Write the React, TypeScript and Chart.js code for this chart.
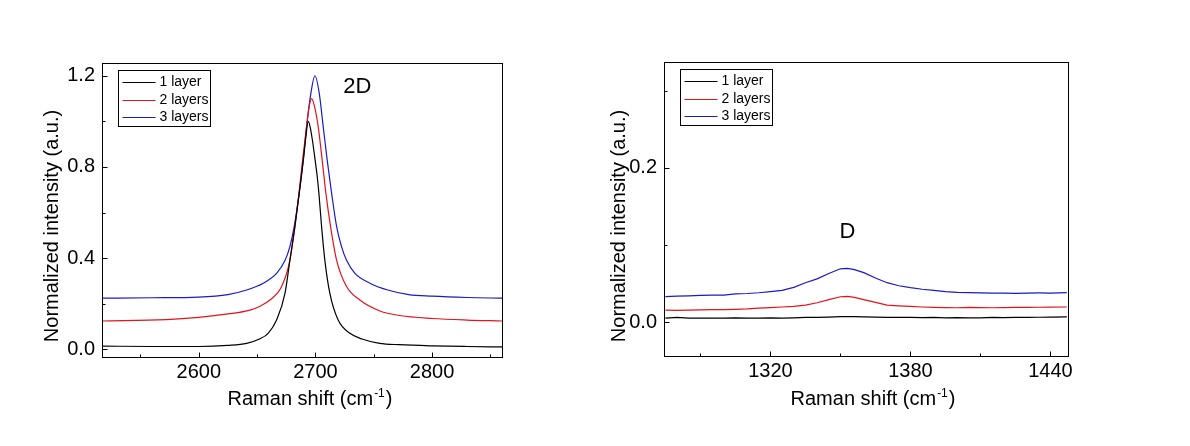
import React, { useEffect, useRef } from "react";
import { Chart, registerables } from "chart.js";

Chart.register(...registerables);

const FONT = "'Liberation Sans', Arial, Helvetica, sans-serif";

const seriesLabels = ["1 layer", "2 layers", "3 layers"];
const seriesColors = ["#000000", "#e3141c", "#1a1ac8"];

// ---------- 2D band (left panel) ----------
const shift2D_1 = [2517, 2560, 2600, 2625, 2641, 2652, 2659.5, 2666.7, 2673.9, 2678.1, 2682.4, 2686.1, 2689.6, 2691.8, 2693.8, 2695.5, 2697.5, 2699.5, 2701.5, 2703, 2705.3, 2708.1, 2712.4, 2719.5, 2729.6, 2740, 2755, 2772, 2800, 2830, 2860];
const int2D_1 = [0.014, 0.012, 0.012, 0.017, 0.026, 0.045, 0.07, 0.128, 0.245, 0.39, 0.538, 0.684, 0.83, 0.93, 1.0, 0.975, 0.915, 0.84, 0.76, 0.684, 0.538, 0.39, 0.245, 0.128, 0.07, 0.045, 0.026, 0.02, 0.015, 0.012, 0.01];

const shift2D_2 = [2517, 2572, 2600, 2625, 2643.9, 2653, 2661, 2671, 2678.1, 2682.4, 2685.9, 2689, 2692.4, 2694.5, 2696.7, 2699, 2702.4, 2705.8, 2709, 2713, 2718.2, 2726.7, 2738.1, 2755.3, 2772.4, 2800, 2830, 2860];
const int2D_2 = [0.124, 0.13, 0.14, 0.155, 0.172, 0.19, 0.216, 0.275, 0.39, 0.538, 0.684, 0.83, 0.976, 1.06, 1.1, 1.07, 0.976, 0.83, 0.684, 0.538, 0.39, 0.275, 0.216, 0.168, 0.148, 0.135, 0.128, 0.124];

const shift2D_3 = [2517, 2560, 2600, 2625, 2641, 2655.3, 2666.7, 2674, 2678.1, 2681.8, 2686.1, 2689.6, 2692.4, 2696.1, 2699.6, 2703.3, 2706.7, 2710.1, 2713.9, 2718.2, 2722.4, 2726.7, 2733.9, 2746.7, 2762, 2780, 2800, 2830, 2860];
const int2D_3 = [0.224, 0.226, 0.229, 0.24, 0.26, 0.29, 0.333, 0.39, 0.45, 0.538, 0.684, 0.83, 0.976, 1.123, 1.2, 1.123, 0.976, 0.83, 0.684, 0.538, 0.45, 0.39, 0.333, 0.29, 0.26, 0.24, 0.233, 0.227, 0.224];

// ---------- D band (right panel) ----------
const shiftD = [1275, 1280, 1285, 1290, 1295, 1300, 1305, 1310, 1315, 1320, 1325, 1330, 1335, 1340, 1345, 1350, 1353, 1356, 1360, 1365, 1370, 1375, 1380, 1385, 1390, 1395, 1400, 1405, 1410, 1415, 1420, 1425, 1430, 1435, 1440, 1447];
const intD_1 = [0.005, 0.006, 0.005, 0.005, 0.005, 0.005, 0.0055, 0.005, 0.005, 0.0055, 0.005, 0.0055, 0.006, 0.006, 0.0065, 0.007, 0.007, 0.007, 0.0068, 0.0065, 0.006, 0.0062, 0.006, 0.0058, 0.006, 0.0055, 0.0058, 0.0055, 0.0055, 0.006, 0.0058, 0.006, 0.006, 0.0062, 0.0065, 0.0068];
const intD_2 = [0.0155, 0.015, 0.0155, 0.0158, 0.016, 0.0162, 0.0165, 0.017, 0.018, 0.0188, 0.0195, 0.0203, 0.022, 0.025, 0.029, 0.0328, 0.0333, 0.032, 0.029, 0.0255, 0.022, 0.021, 0.0203, 0.0195, 0.019, 0.0186, 0.0185, 0.019, 0.0188, 0.0185, 0.0188, 0.019, 0.019, 0.0192, 0.0194, 0.0195];
const intD_3 = [0.033, 0.0335, 0.034, 0.0345, 0.0348, 0.035, 0.0365, 0.037, 0.038, 0.0395, 0.041, 0.045, 0.051, 0.056, 0.063, 0.069, 0.0695, 0.068, 0.064, 0.057, 0.051, 0.047, 0.0445, 0.0425, 0.041, 0.0395, 0.0385, 0.038, 0.0378, 0.0375, 0.0375, 0.0372, 0.0375, 0.0377, 0.0376, 0.038];

// ---------- axes / ticks ----------
const x2DRange = [2517, 2860];
const y2DRange = [-0.034, 1.256];
const x2DStep = 100;
const y2DStep = 0.4;
const x2DMinor = [2550, 2650, 2750, 2850];
const y2DMinor = [0.2, 0.6, 1.0];

const xDRange = [1274.4, 1447.5];
const yDRange = [-0.044, 0.337];
const xDStep = 60;
const yDStep = 0.2;
const xDMinor = [1290, 1350, 1410];
const yDMinor = [0.1, 0.3];

const yTitle = "Normalized intensity (a.u.)";
const xTitleMain = "Raman shift (cm";
const xTitleSup = "-1";
const xTitleEnd = ")";

type PanelCfg = {
  id: string;
  left: number;
  width: number;
  yAxisWidth: number;
  xAxisHeight: number;
  padTop: number;
  padRight: number;
  xs: number[][];
  ys: number[][];
  xRange: number[];
  yRange: number[];
  xStep: number;
  yStep: number;
  xMinor: number[];
  yMinor: number[];
  tension: number;
  peakLabel: string;
  peakX: number;
  peakY: number;
  yTitleX: number;
  xTitleShift: number;
};

function overlayPlugin(cfg: PanelCfg) {
  return {
    id: "overlay_" + cfg.id,
    afterDraw(chart: any) {
      const ctx = chart.ctx as CanvasRenderingContext2D;
      const { left, right, top, bottom } = chart.chartArea;
      const xs = chart.scales.x;
      const ys = chart.scales.y;
      const L = Math.round(left) + 0.5;
      const R = Math.round(right) + 0.5;
      const T = Math.round(top) + 0.5;
      const B = Math.round(bottom) + 0.5;
      ctx.save();
      ctx.strokeStyle = "#000";
      ctx.lineWidth = 1;
      ctx.strokeRect(L, T, R - L, B - T);
      // ticks, pointing inward
      ctx.beginPath();
      xs.ticks.forEach((t: any) => {
        const px = Math.round(xs.getPixelForValue(t.value)) + 0.5;
        ctx.moveTo(px, B);
        ctx.lineTo(px, B - 5);
      });
      cfg.xMinor.forEach((v) => {
        const px = Math.round(xs.getPixelForValue(v)) + 0.5;
        ctx.moveTo(px, B);
        ctx.lineTo(px, B - 3);
      });
      ys.ticks.forEach((t: any) => {
        const py = Math.round(ys.getPixelForValue(t.value)) + 0.5;
        ctx.moveTo(L, py);
        ctx.lineTo(L + 5, py);
      });
      cfg.yMinor.forEach((v) => {
        const py = Math.round(ys.getPixelForValue(v)) + 0.5;
        ctx.moveTo(L, py);
        ctx.lineTo(L + 3, py);
      });
      ctx.stroke();

      // legend box
      const bx = Math.round(left + 16) + 0.5;
      const by = Math.round(top + 7) + 0.5;
      ctx.fillStyle = "#fff";
      ctx.fillRect(bx, by, 92, 56);
      ctx.strokeRect(bx, by, 92, 56);
      ctx.font = "14px " + FONT;
      ctx.textBaseline = "middle";
      ctx.textAlign = "left";
      chart.data.datasets.forEach((ds: any, i: number) => {
        const ry = Math.round(by + 11.5 + i * 17.5) + 0.5;
        ctx.strokeStyle = ds.borderColor;
        ctx.beginPath();
        ctx.moveTo(bx + 4, ry);
        ctx.lineTo(bx + 37, ry);
        ctx.stroke();
        ctx.fillStyle = "#000";
        ctx.fillText(ds.label, bx + 41, ry);
      });

      // peak label
      ctx.fillStyle = "#000";
      ctx.font = "22px " + FONT;
      ctx.textAlign = "center";
      ctx.textBaseline = "middle";
      ctx.fillText(cfg.peakLabel, xs.getPixelForValue(cfg.peakX), ys.getPixelForValue(cfg.peakY));

      // y title
      ctx.save();
      ctx.font = "20px " + FONT;
      ctx.translate(cfg.yTitleX, 226);
      ctx.rotate(-Math.PI / 2);
      ctx.textAlign = "center";
      ctx.textBaseline = "middle";
      ctx.fillText(yTitle, 0, 0);
      ctx.restore();

      // x title with superscript
      ctx.font = "20px " + FONT;
      const w1 = ctx.measureText(xTitleMain).width;
      const w3 = ctx.measureText(xTitleEnd).width;
      ctx.font = "12px " + FONT;
      const w2 = ctx.measureText(xTitleSup).width;
      const total = w1 + w2 + w3 + 2;
      let sx = (left + right) / 2 + cfg.xTitleShift - total / 2;
      const base = 405;
      ctx.textAlign = "left";
      ctx.textBaseline = "alphabetic";
      ctx.font = "20px " + FONT;
      ctx.fillText(xTitleMain, sx, base);
      sx += w1 + 1;
      ctx.font = "12px " + FONT;
      ctx.fillText(xTitleSup, sx, base - 8);
      sx += w2 + 1;
      ctx.font = "20px " + FONT;
      ctx.fillText(xTitleEnd, sx, base);
      ctx.restore();
    },
  };
}

function Panel({ cfg }: { cfg: PanelCfg }) {
  const ref = useRef<HTMLCanvasElement | null>(null);
  useEffect(() => {
    if (!ref.current) return;
    const datasets = seriesLabels.map((label, i) => ({
      label,
      data: cfg.xs[i].map((x, j) => ({ x, y: cfg.ys[i][j] })),
      borderColor: seriesColors[i],
      backgroundColor: seriesColors[i],
      borderWidth: 1.2,
      pointRadius: 0,
      fill: false,
      tension: cfg.tension,
      cubicInterpolationMode: cfg.tension > 0 ? ("monotone" as const) : ("default" as const),
    }));
    const chart = new Chart(ref.current, {
      type: "line",
      data: { datasets },
      options: {
        animation: false,
        responsive: false,
        maintainAspectRatio: false,
        layout: { padding: { left: 0, top: cfg.padTop, right: cfg.padRight, bottom: 0 } },
        plugins: { legend: { display: false }, tooltip: { enabled: false }, title: { display: false } },
        scales: {
          x: {
            type: "linear",
            min: cfg.xRange[0],
            max: cfg.xRange[1],
            grid: { display: false, drawTicks: false },
            border: { display: false },
            afterFit: (s: any) => {
              s.height = cfg.xAxisHeight;
            },
            ticks: {
              stepSize: cfg.xStep,
              includeBounds: false,
              autoSkip: false,
              maxRotation: 0,
              padding: 3,
              color: "#000",
              font: { family: FONT, size: 20 },
              callback: (v: any) => String(Math.round(Number(v))),
            },
          },
          y: {
            type: "linear",
            min: cfg.yRange[0],
            max: cfg.yRange[1],
            grid: { display: false, drawTicks: false },
            border: { display: false },
            afterFit: (s: any) => {
              s.width = cfg.yAxisWidth;
            },
            ticks: {
              stepSize: cfg.yStep,
              includeBounds: false,
              autoSkip: false,
              padding: 7,
              color: "#000",
              font: { family: FONT, size: 20 },
              callback: (v: any) => Number(v).toFixed(1),
            },
          },
        },
      },
      plugins: [overlayPlugin(cfg)],
    });
    return () => chart.destroy();
  }, [cfg]);
  return (
    <canvas
      ref={ref}
      width={cfg.width}
      height={446}
      style={{ position: "absolute", left: cfg.left, top: 0, width: cfg.width, height: 446, display: "block" }}
    />
  );
}

const leftCfg: PanelCfg = {
  id: "2d",
  left: 0,
  width: 595,
  yAxisWidth: 102,
  xAxisHeight: 89,
  padTop: 63,
  padRight: 93,
  xs: [shift2D_1, shift2D_2, shift2D_3],
  ys: [int2D_1, int2D_2, int2D_3],
  xRange: x2DRange,
  yRange: y2DRange,
  xStep: x2DStep,
  yStep: y2DStep,
  xMinor: x2DMinor,
  yMinor: y2DMinor,
  tension: 0.4,
  peakLabel: "2D",
  peakX: 2736,
  peakY: 1.152,
  yTitleX: 52,
  xTitleShift: 8,
};

const rightCfg: PanelCfg = {
  id: "d",
  left: 595,
  width: 595,
  yAxisWidth: 69,
  xAxisHeight: 90,
  padTop: 62,
  padRight: 122,
  xs: [shiftD, shiftD, shiftD],
  ys: [intD_1, intD_2, intD_3],
  xRange: xDRange,
  yRange: yDRange,
  xStep: xDStep,
  yStep: yDStep,
  xMinor: xDMinor,
  yMinor: yDMinor,
  tension: 0,
  peakLabel: "D",
  peakX: 1353,
  peakY: 0.1166,
  yTitleX: 24,
  xTitleShift: 7,
};

export default function App() {
  return (
    <div style={{ position: "absolute", left: 0, top: 0, width: 1190, height: 446, background: "#fff", overflow: "hidden" }}>
      <Panel cfg={leftCfg} />
      <Panel cfg={rightCfg} />
    </div>
  );
}
